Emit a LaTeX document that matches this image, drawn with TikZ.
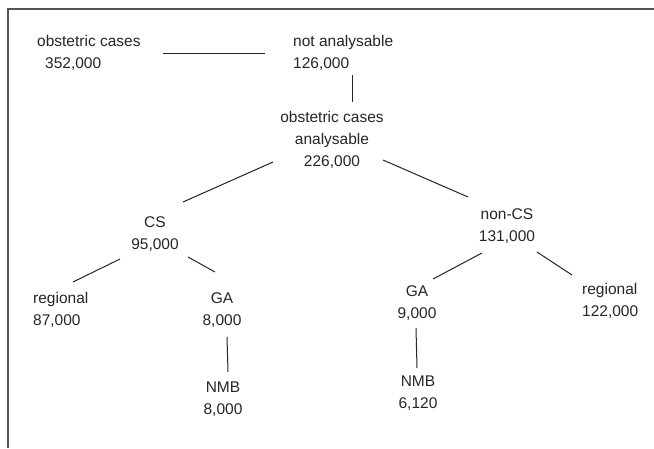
\documentclass[tikz,border=0pt]{standalone}
\usepackage{fontspec}
\setmainfont{Liberation Sans}
\usepackage{tikz}
\definecolor{framegray}{RGB}{85,85,85}
\tikzset{
  lbl/.style  = {font=\fontsize{15.5}{22}\selectfont, align=center, inner sep=0pt, text=black!85},
  lbll/.style = {lbl, align=left, anchor=west},
  link/.style = {draw=black!85, line width=1pt},
}
\begin{document}
\begin{tikzpicture}[x=1pt, y=-1pt]
  \fill[white] (0,0) rectangle (654,448);
  \useasboundingbox (0,0) rectangle (654,448);

  % frame (top and left edge only)
  \draw[draw=framegray, line width=2pt] (654,9) -- (7.5,9) -- (7.5,448);

  % top row
  \node[lbll] (start)  at (37,53)  {obstetric cases\\\hspace*{8pt}352,000};
  \node[lbll] (notana) at (293,53) {not analysable\\126,000};
  \node[lbl]  (ana)    at (332,140) {obstetric cases\\analysable\\226,000};

  % caesarean / non caesarean
  \node[lbl]  (cs)     at (155,234) {CS\\95,000};
  \node[lbl]  (noncs)  at (507,226) {non-CS\\131,000};

  % CS branch
  \node[lbll] (csreg)  at (33,310)  {regional\\87,000};
  \node[lbl]  (csga)   at (222,310) {GA\\8,000};
  \node[lbl]  (csnmb)  at (223,399) {NMB\\8,000};

  % non-CS branch
  \node[lbl]  (ncga)   at (417,303) {GA\\9,000};
  \node[lbl]  (ncnmb)  at (418,393) {NMB\\6,120};
  \node[lbll] (ncreg)  at (582,301) {regional\\122,000};

  \draw[link] ([xshift=126]start.west) -- ([xshift=-28]notana.west);
  \draw[link] ([shift={(59,22)}]notana.west) -- ([shift={(20,-38)}]ana.center);
  \draw[link] ([shift={(-59,22)}]ana.center) -- ([shift={(28,-32)}]cs.center);
  \draw[link] ([shift={(51,20)}]ana.center) -- ([shift={(-39,-29)}]noncs.center);
  \draw[link] ([shift={(-35,25)}]cs.center) -- ([shift={(40,-28)}]csreg.west);
  \draw[link] ([shift={(33,23)}]cs.center) -- ([shift={(-7,-38)}]csga.center);
  \draw[link] ([shift={(5,27)}]csga.center) -- ([shift={(5,-27)}]csnmb.center);
  \draw[link] ([shift={(-25,27)}]noncs.center) -- ([shift={(16,-24)}]ncga.center);
  \draw[link] ([shift={(30,26)}]noncs.center) -- ([shift={(-10,-26)}]ncreg.west);
  \draw[link] ([shift={(-1,25)}]ncga.center) -- ([shift={(-1,-25)}]ncnmb.center);
\end{tikzpicture}
\end{document}
